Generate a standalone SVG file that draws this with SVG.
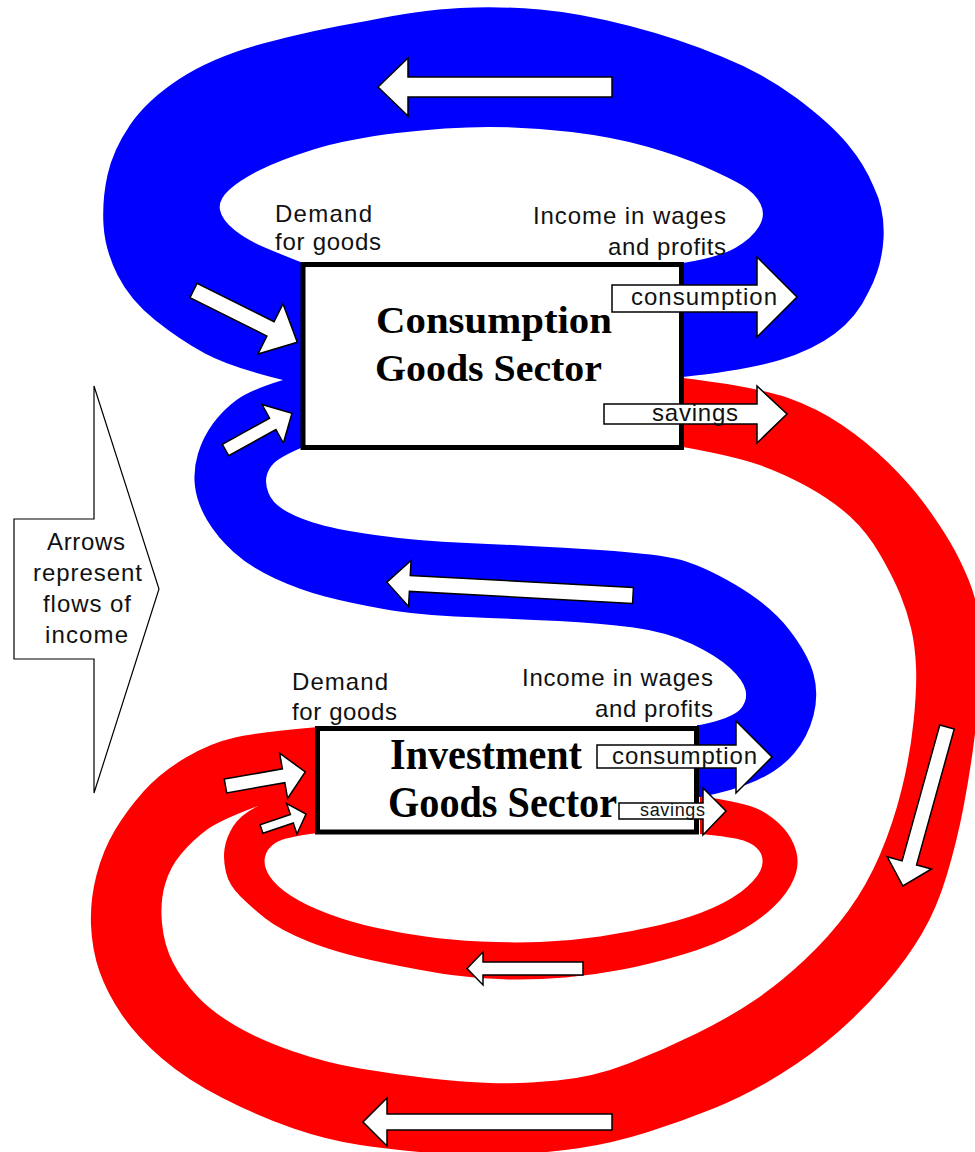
<svg xmlns="http://www.w3.org/2000/svg" width="975" height="1152" viewBox="0 0 975 1152">
  <style>
    .blue{fill:#0000ff}
    .red{fill:#ff0000}
    .arrow{fill:#fff;stroke:#000;stroke-width:1.5;stroke-linejoin:miter}
    .box{fill:#fff;stroke:#000;stroke-width:5}
    .title{font-family:"Liberation Serif","Times New Roman",serif;font-weight:bold;fill:#000}
    .lbl{font-family:"Liberation Sans",Arial,sans-serif;font-size:24px;fill:#111}
    .small{font-size:18px}
  </style>
  <rect width="975" height="1152" fill="#fff"/>

  <!-- income flows: coloured bands and direction arrows -->
  <g id="connectors">
    <!-- savings loop from consumption sector to investment sector (red, outer) -->
    <path class="red" d="M683,378 Q757,387 787,397.5 Q817,408 842,425 Q867,442 888.5,463 Q910,484 925,504.5 Q940,525 950,542 Q960,559 968.5,579.5 Q977,600 980.5,627.5 Q984,655 981,682.5 Q978,710 974,741.5 Q970,773 963.5,807 Q957,841 947,874.5 Q937,908 922,933.5 Q907,959 885,984.5 Q863,1010 838,1032 Q813,1054 780,1074.5 Q747,1095 713.5,1108.5 Q680,1122 646.5,1132.5 Q613,1143 580,1148 Q547,1153 508.5,1154.5 Q470,1156 431.5,1153 Q393,1150 360,1145 Q327,1140 293.5,1128.5 Q260,1117 223.5,1098.5 Q187,1080 162,1058.5 Q137,1037 122,1015 Q107,993 99.5,971.5 Q92,950 91,925 Q90,900 96.5,875 Q103,850 115,830 Q127,810 143.5,791.5 Q160,773 185,758 Q210,743 235,737.5 Q260,732 318,727 L318,806 L258,806 Q220,820 206.5,830 Q193,840 181.5,853.5 Q170,867 165,884.5 Q160,902 162,923.5 Q164,945 173,962.5 Q182,980 197,996 Q212,1012 236,1026 Q260,1040 293.5,1051.5 Q327,1063 360,1068.5 Q393,1074 426.5,1078 Q460,1082 490,1083 Q520,1084 557,1080.5 Q594,1077 628.5,1063.5 Q663,1050 696.5,1033.5 Q730,1017 755,1000 Q780,983 805,959.5 Q830,936 848.5,910.5 Q867,885 880,854.5 Q893,824 901.5,790 Q910,756 913.5,722 Q917,688 916,666.5 Q915,645 911,628 Q907,611 900,594 Q893,577 880,554.5 Q867,532 850,516.5 Q833,501 808,487 Q783,473 758,464.5 Q733,456 683,447 Z"/>
    <!-- savings loop of the investment sector (red, inner) -->
    <path class="red" d="M700,796 Q747,803 760,810 Q773,817 782.5,827 Q792,837 796,850.5 Q800,864 794,878.5 Q788,893 774,906.5 Q760,920 737.5,932.5 Q715,945 683,954.5 Q651,964 622.5,969.5 Q594,975 565.5,977.5 Q537,980 508.5,979.5 Q480,979 451.5,975 Q423,971 380,962 Q337,953 308.5,941.5 Q280,930 265.5,918.5 Q251,907 240,896 Q229,885 226,872.5 Q223,860 224.5,849 Q226,838 233,826.5 Q240,815 258,806 L318,806 L318,833 Q285,837 276,842.5 Q267,848 265,857 Q263,866 269.5,876 Q276,886 290.5,895.5 Q305,905 327.5,913.5 Q350,922 375,927.5 Q400,933 425.5,936.5 Q451,940 480.5,941.5 Q510,943 540,942 Q570,941 600,936.5 Q630,932 660,925 Q690,918 712.5,908 Q735,898 747.5,886.5 Q760,875 762,866 Q764,857 759,850.5 Q754,844 743.5,840.5 Q733,837 700,834 Z"/>
    <!-- consumption loop of the consumption sector (blue, top) -->
    <path class="blue" d="M283,380 Q230,367 205,353.5 Q180,340 155,320 Q130,300 117.5,275 Q105,250 103.5,225 Q102,200 107.5,175 Q113,150 130,125 Q147,100 180,78.5 Q213,57 263,43.5 Q313,30 366.5,21 Q420,10 460,8 Q500,6 540,9.5 Q580,13 630,26 Q680,39 721.5,56.5 Q763,73 796.5,98 Q830,123 847.5,144 Q865,165 874,187.5 Q885,210 883.5,238.5 Q882,267 868.5,292 Q857,317 835,333.5 Q813,350 780,360 Q747,370 683,377 L683,263 Q720,257 736,247.5 Q752,238 759,226.5 Q766,215 760.5,204 Q755,193 742.5,185.5 Q730,178 705,167 Q680,156 646.5,146.5 Q613,137 571.5,132 Q530,127 488.5,127 Q447,127 397,133 Q347,139 313.5,149.5 Q280,160 260,170 Q240,180 229,190 Q218,200 220,210 Q222,220 234.5,230 Q247,240 266,248 Q285,256 303,263 L303,380 Z"/>
    <!-- consumption spending of the investment sector (blue, S-shaped) -->
    <path class="blue" d="M303,380 L283,380 Q250,390 236.5,400 Q223,410 213,423.5 Q203,437 198,453.5 Q193,470 195,486.5 Q197,503 207,520 Q217,537 233.5,552 Q250,567 275,578.5 Q300,590 325,596.5 Q350,603 383.5,609 Q417,615 467,617 Q517,619 558.5,621 Q600,623 633.5,627.5 Q667,632 692,644 Q717,656 730,668 Q743,680 745.5,690 Q748,700 740.5,709 Q733,718 700,725 L697,725 L697,797 L700,797 Q733,791 756.5,780.5 Q780,770 794,753.5 Q808,737 813.5,715.5 Q819,694 813.5,674 Q808,654 789,629.5 Q770,605 735,584.5 Q700,564 675,558.5 Q650,553 583.5,549 Q517,545 467,543 Q417,541 375,535 Q333,529 313,522.5 Q293,516 282.5,509 Q272,502 268.5,493 Q265,484 266.5,476.5 Q268,469 274,463 Q280,457 303,447 Z"/>

    <!-- direction arrows on the bands -->
    <polygon class="arrow" points="612,77 408,77 408,58 378,87 408,116 408,97 612,97"/>
    <polygon class="arrow" transform="translate(193.5,290.5) rotate(26.5)" points="0,-8 86,-8 86,-28 116,0 86,28 86,8 0,8"/>
    <polygon class="arrow" transform="translate(225.5,450) rotate(-29)" points="0,-6.5 54,-6.5 54,-22 76,0 54,22 54,6.5 0,6.5"/>
    <polygon class="arrow" transform="translate(633,595.5) rotate(183.1)" points="0,-8 223.5,-8 223.5,-23 246.5,0 223.5,23 223.5,8 0,8"/>
    <polygon class="arrow" transform="translate(225.5,786) rotate(-10)" points="0,-7 59,-7 59,-23 81,0 59,23 59,7 0,7"/>
    <polygon class="arrow" transform="translate(261.5,829) rotate(-18.6)" points="0,-4.5 32,-4.5 32,-16 47,0 32,16 32,4.5 0,4.5"/>
    <polygon class="arrow" transform="translate(947,727) rotate(105.5)" points="0,-7.5 141,-7.5 141,-23 165,0 141,23 141,7.5 0,7.5"/>
    <polygon class="arrow" points="583,962 483,962 483,952 467,968.5 483,985 483,975 583,975"/>
    <polygon class="arrow" points="612,1114 387,1114 387,1098 363,1122 387,1146 387,1130 612,1130"/>
  </g>

  <!-- legend callout -->
  <g id="legend">
    <polygon points="94,386 159,589 94,793 94,659 14,659 14,519 94,519" fill="#fff" stroke="#000" stroke-width="1.2"/>
    <text class="lbl" x="47" y="550" textLength="78" lengthAdjust="spacing">Arrows</text>
    <text class="lbl" x="33" y="581" textLength="109" lengthAdjust="spacing">represent</text>
    <text class="lbl" x="43" y="612" textLength="88" lengthAdjust="spacing">flows of</text>
    <text class="lbl" x="45" y="643" textLength="83" lengthAdjust="spacing">income</text>
  </g>

  <!-- consumption goods sector -->
  <g id="consumption-sector">
    <rect class="box" x="303" y="264.5" width="378.5" height="183"/>
    <text class="title" x="376" y="333" font-size="38" textLength="236" lengthAdjust="spacingAndGlyphs">Consumption</text>
    <text class="title" x="375" y="381" font-size="38" textLength="227" lengthAdjust="spacingAndGlyphs">Goods Sector</text>
    <text class="lbl" x="275" y="222" textLength="97" lengthAdjust="spacing">Demand</text>
    <text class="lbl" x="275" y="250" textLength="106" lengthAdjust="spacing">for goods</text>
    <text class="lbl" x="533" y="224" textLength="193" lengthAdjust="spacing">Income in wages</text>
    <text class="lbl" x="608" y="255" textLength="118" lengthAdjust="spacing">and profits</text>
    <polygon class="arrow" points="612,285 757,285 757,257 797,297 757,337 757,312 612,312"/>
    <text class="lbl" x="631" y="305" textLength="146" lengthAdjust="spacing">consumption</text>
    <polygon class="arrow" points="604,404 757,404 757,386 787,414 757,443 757,424 604,424"/>
    <text class="lbl" x="652" y="421" textLength="86" lengthAdjust="spacing">savings</text>
  </g>

  <!-- investment goods sector -->
  <g id="investment-sector">
    <rect class="box" x="317.5" y="728.5" width="379" height="103.5"/>
    <text class="title" x="390" y="769" font-size="44" textLength="192" lengthAdjust="spacingAndGlyphs">Investment</text>
    <text class="title" x="388" y="817" font-size="44" textLength="229" lengthAdjust="spacingAndGlyphs">Goods Sector</text>
    <text class="lbl" x="292" y="690" textLength="96" lengthAdjust="spacing">Demand</text>
    <text class="lbl" x="292" y="720" textLength="105" lengthAdjust="spacing">for goods</text>
    <text class="lbl" x="522" y="686" textLength="191" lengthAdjust="spacing">Income in wages</text>
    <text class="lbl" x="595" y="717" textLength="118" lengthAdjust="spacing">and profits</text>
    <polygon class="arrow" points="597,745 736,745 736,721 772,757 736,793 736,768 597,768"/>
    <text class="lbl" x="612" y="764" textLength="145" lengthAdjust="spacing">consumption</text>
    <polygon class="arrow" points="619,803 703,803 703,788 726,811 703,835 703,819 619,819"/>
    <text class="lbl small" x="640" y="816" textLength="65" lengthAdjust="spacing">savings</text>
  </g>
</svg>
